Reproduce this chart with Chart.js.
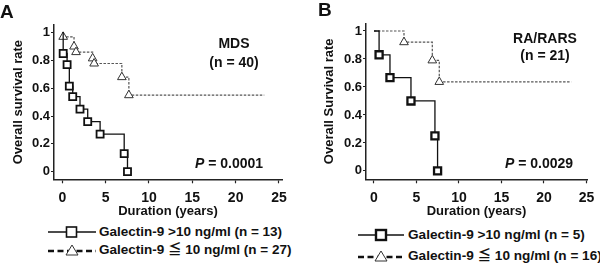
<!DOCTYPE html>
<html>
<head>
<meta charset="utf-8">
<script src="https://cdn.jsdelivr.net/npm/chart.js@4.4.1/dist/chart.umd.min.js"></script>
<style>
    body { margin: 0; width: 600px; height: 266px; background: #fff; position: relative; overflow: hidden;
           font-family: "Liberation Sans", Arial, "Noto Sans CJK JP", sans-serif; font-weight: bold; color: #111; }
    .panel { position: absolute; top: 0; height: 222px; }
    .txt { position: absolute; white-space: nowrap; line-height: 16px; font-size: 14px; }
    .lbl { position: absolute; font-size: 19px; line-height: 20px; }
    .leg { position: absolute; white-space: nowrap; font-size: 13.5px; line-height: 16px; }
    .leg.b { font-size: 13.6px; }
    .leg svg { position: absolute; left: 0; top: 1px; }
</style>
</head>
<body>
<div class="panel" style="left:0;width:295px"><canvas id="chartA"></canvas></div>
<div class="panel" style="left:300px;width:300px"><canvas id="chartB"></canvas></div>

<div class="lbl" style="left:0;top:2px">A</div>
<div class="lbl" style="left:318px;top:0">B</div>

<div class="txt" style="left:184px;width:100px;text-align:center;top:35px">MDS</div>
<div class="txt" style="left:184px;width:100px;text-align:center;top:54px">(n = 40)</div>
<div class="txt" style="left:195px;top:155px"><i>P</i> = 0.0001</div>

<div class="txt" style="left:495px;width:100px;text-align:center;top:30px">RA/RARS</div>
<div class="txt" style="left:495px;width:100px;text-align:center;top:47px">(n = 21)</div>
<div class="txt" style="left:505px;top:155px"><i>P</i> = 0.0029</div>

<!-- legends -->
<div class="leg" style="left:48px;top:224px;padding-left:51px">
    <svg width="48" height="14"><line x1="0" y1="7" x2="48" y2="7" stroke="#111" stroke-width="1.3"/><rect x="18.5" y="2" width="10" height="10" fill="#fff" stroke="#111" stroke-width="1.6"/></svg>
    <span>Galectin-9 &gt;10 ng/ml (n = 13)</span>
</div>
<div class="leg" style="left:48px;top:242px;padding-left:51px">
    <svg width="48" height="14"><line x1="0" y1="8" x2="48" y2="8" stroke="#111" stroke-width="2.6" stroke-dasharray="6 3.5"/><polygon points="24,2 30,12 18,12" fill="#fff" stroke="#333" stroke-width="1"/></svg>
    <span>Galectin-9 ≦ 10 ng/ml (n = 27)</span>
</div>
<div class="leg b" style="left:358px;top:227px;padding-left:50px">
    <svg width="46" height="14"><line x1="0" y1="7" x2="46" y2="7" stroke="#111" stroke-width="1.3"/><rect x="18" y="2" width="10" height="10" fill="#fff" stroke="#111" stroke-width="2.4"/></svg>
    <span>Galectin-9 &gt;10 ng/ml (n = 5)</span>
</div>
<div class="leg b" style="left:358px;top:248px;padding-left:50px">
    <svg width="46" height="14"><line x1="0" y1="8" x2="46" y2="8" stroke="#111" stroke-width="2.6" stroke-dasharray="6 3.5"/><polygon points="23,2 29,12 17,12" fill="#fff" stroke="#333" stroke-width="1"/></svg>
    <span>Galectin-9 ≦ 10 ng/ml (n = 16)</span>
</div>

<script>
// axis ticks
const xTicks = [0, 5, 10, 15, 20, 25];
const yTicks = [0, 0.2, 0.4, 0.6, 0.8, 1];
const yTickLabels = ['0', '0.2', '0.4', '0.6', '0.8', '1'];

// A: MDS, Kaplan-Meier steps (years, survival)
const mdsHighTime = [0, 0.1, 0.55, 0.81, 1.2, 2.04, 2.93, 4.36, 7.14, 7.52];
const mdsHighSurv = [1, 0.85, 0.77, 0.615, 0.54, 0.45, 0.36, 0.27, 0.13, 0];
const mdsLowTime = [0, 0.1, 1.35, 1.58, 3.5, 3.67, 6.87, 7.68, 23.3];
const mdsLowSurv = [1, 0.97, 0.9, 0.86, 0.815, 0.778, 0.68, 0.55, 0.55];

// B: RA/RARS
const raHighTime = [0, 0.6, 1.88, 4.35, 7.17, 7.48];
const raHighSurv = [1, 0.83, 0.667, 0.5, 0.25, 0];
const raLowTime = [0, 3.53, 6.86, 7.68, 23.2];
const raLowSurv = [1, 0.92, 0.79, 0.636, 0.636];

Chart.defaults.font.family = '"Liberation Sans", Arial, sans-serif';
Chart.defaults.font.weight = 'bold';
Chart.defaults.color = '#111';

const pts = (times, surv) => times.map((t, i) => ({ x: t, y: surv[i] }));

function highSet(times, surv, bw) {
    return {
        data: pts(times, surv), stepped: 'before', borderColor: '#111', borderWidth: 1.3,
        pointStyle: 'rect', pointRadius: (c) => (c.dataIndex === 0 ? 0 : 5),
        pointBackgroundColor: '#fff', pointBorderColor: '#111', pointBorderWidth: bw, clip: false,
    };
}

function lowSet(times, surv) {
    const last = times.length - 1;
    return {
        data: pts(times, surv), stepped: 'before', borderColor: '#555', borderWidth: 1.2, borderDash: [2.5, 1.5],
        pointStyle: 'triangle', pointRadius: (c) => (c.dataIndex === 0 || c.dataIndex === last ? 0 : 5),
        pointBackgroundColor: '#fff', pointBorderColor: '#333', pointBorderWidth: 1, clip: false,
    };
}

function makeChart(id, p, datasets) {
    const axisLine = { display: true, color: '#222', width: 1.5 };
    return new Chart(document.getElementById(id), {
        type: 'line',
        data: { datasets },
        options: {
            responsive: true, maintainAspectRatio: false, animation: false,
            layout: { padding: { left: p.padLeft, top: p.padTop, right: p.padRight, bottom: 0 } },
            plugins: { legend: { display: false }, tooltip: { enabled: false } },
            scales: {
                x: {
                    type: 'linear', min: p.xMin, max: p.xMax,
                    afterBuildTicks: (ax) => { ax.ticks = xTicks.map((v) => ({ value: v })); },
                    afterFit: (ax) => { ax.height = p.xHeight; ax.paddingLeft = 0; ax.paddingRight = 0; },
                    ticks: { font: { size: 14 }, padding: 6, maxRotation: 0, autoSkip: false, color: '#111' },
                    grid: { drawOnChartArea: false, drawTicks: true, tickLength: 4, tickColor: '#222', tickWidth: 1.2 },
                    border: axisLine,
                    title: { display: true, text: 'Duration (years)', font: { size: 13 }, padding: { top: 0, bottom: 2.5 }, color: '#111' },
                },
                y: {
                    type: 'linear', min: p.yMin, max: p.yMax,
                    afterBuildTicks: (ax) => { ax.ticks = yTicks.map((v) => ({ value: v })); },
                    afterFit: (ax) => { ax.width = p.yWidth; ax.paddingTop = 0; ax.paddingBottom = 0; },
                    ticks: { font: { size: 13 }, padding: 1, autoSkip: false, color: '#111',
                             callback: (v, i) => yTickLabels[i] },
                    grid: { drawOnChartArea: false, drawTicks: true, tickLength: 3, tickColor: '#222', tickWidth: 1.2 },
                    border: axisLine,
                    title: { display: true, text: p.yTitle, font: { size: 13 }, padding: { top: 0, bottom: 0 }, color: '#111' },
                },
            },
        },
    });
}

makeChart('chartA', { xMin: -0.96, xMax: 25.35, yMin: -0.055, yMax: 1.055, padLeft: 11, yWidth: 43, padTop: 25,
    padRight: 13, xHeight: 42.7, yTitle: 'Overall survival rate' },
    [highSet(mdsHighTime, mdsHighSurv, 1.8), lowSet(mdsLowTime, mdsLowSurv)]);

makeChart('chartB', { xMin: -0.94, xMax: 25.06, yMin: -0.06, yMax: 1.055, padLeft: 22, yWidth: 44, padTop: 23.3,
    padRight: 13, xHeight: 42.7, yTitle: 'Overall Survival rate' },
    [highSet(raHighTime, raHighSurv, 2.3), lowSet(raLowTime, raLowSurv)]);
</script>
</body>
</html>
